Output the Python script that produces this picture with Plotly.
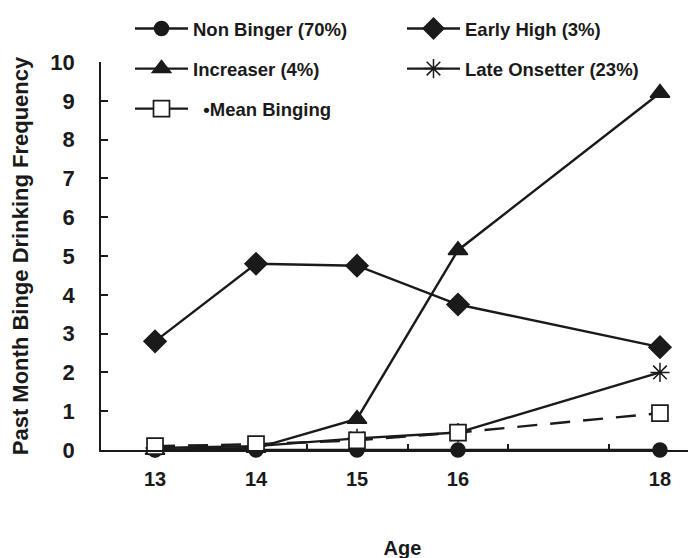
import plotly.graph_objects as go

ages = [13, 14, 15, 16, 18]
non_binger = [0, 0, 0, 0, 0]
early_high = [2.8, 4.8, 4.75, 3.75, 2.65]
increaser = [0.0, 0.05, 0.8, 5.15, 9.2]
late_onsetter = [0.05, 0.1, 0.3, 0.45, 2.0]
mean_binging = [0.1, 0.15, 0.25, 0.45, 0.95]

x_ticks = [13, 14, 15, 16, 18]
x_minor = [13.5, 14.5, 15.5, 16.5, 17.5]
y_ticks = list(range(0, 11))

INK = "#1a1a1a"
FONT = "Liberation Sans, Arial, sans-serif"
X_RANGE = [12.465, 18.436]

W, H = 696, 558
ML, MR, MT, MB = 93, 0, 54, 116
PW, PH = W - ML - MR, H - MT - MB

def px_x(p):
    return (p - ML) / PW

def px_y(p):
    return (H - MB - p) / PH

fig = go.Figure()

def add(name, y, symbol, size, legend, group, dash="solid", fill=INK, lw=1.5):
    fig.add_trace(go.Scatter(
        x=ages, y=y, name=name, mode="lines+markers",
        line=dict(color=INK, width=2.4, dash=dash),
        marker=dict(symbol=symbol, size=size, color=fill,
                    line=dict(color=INK, width=lw)),
        legend=legend, legendgroup=group, cliponaxis=False,
    ))

add("Non Binger (70%)", non_binger, "circle", 14, "legend", "a")
add("Early High (3%)", early_high, "diamond", 17, "legend2", "b")
add("Increaser (4%)", increaser, "triangle-up", 17, "legend", "c")
add("Late Onsetter (23%)", late_onsetter, "asterisk-open", 16, "legend2", "d", lw=1.5)
add("  \u2022Mean Binging", mean_binging, "square", 16, "legend", "e",
    dash="20px,13px", fill="white", lw=1.7)

# invisible trace to carry the between-age tick marks on an overlay axis
fig.add_trace(go.Scatter(x=x_minor, y=[None] * len(x_minor), xaxis="x2",
                         showlegend=False, hoverinfo="skip", mode="markers"))

legend_common = dict(
    xref="paper", yref="paper", yanchor="top", xanchor="left",
    orientation="v", bgcolor="rgba(0,0,0,0)", itemwidth=53,
    font=dict(family=FONT, size=18.5, color=INK, weight="bold"),
    tracegroupgap=13, itemclick=False,
)

fig.update_layout(
    width=W, height=H,
    margin=dict(l=ML, r=MR, t=MT, b=MB, autoexpand=False),
    paper_bgcolor="white", plot_bgcolor="white",
    font=dict(family=FONT, color=INK),
    showlegend=True,
    legend=dict(x=px_x(122), y=px_y(2), **legend_common),
    legend2=dict(x=px_x(394), y=px_y(2), **legend_common),
    xaxis=dict(
        range=X_RANGE, showline=True, linecolor=INK, linewidth=1.8,
        showgrid=False, zeroline=False,
        tickmode="array", tickvals=x_ticks, ticktext=[str(v) for v in x_ticks],
        ticks="outside", ticklen=10, tickcolor="rgba(0,0,0,0)",
        tickfont=dict(family=FONT, size=20, color=INK, weight="bold"),
        title=dict(text="Age", standoff=52,
                   font=dict(family=FONT, size=20, color=INK, weight="bold")),
    ),
    xaxis2=dict(
        range=X_RANGE, overlaying="x", side="bottom", anchor="y",
        showline=False, showgrid=False, zeroline=False,
        tickmode="array", tickvals=x_minor, showticklabels=False,
        ticks="inside", ticklen=6, tickwidth=1.5, tickcolor=INK,
    ),
    yaxis=dict(
        range=[0, 10], showline=True, linecolor=INK, linewidth=1.8,
        showgrid=False, zeroline=False,
        tickmode="array", tickvals=y_ticks,
        ticks="inside", ticklen=7, tickwidth=1.5, tickcolor=INK,
        ticklabelstandoff=20,
        tickfont=dict(family=FONT, size=22, color=INK, weight="bold"),
        title=dict(text="Past Month Binge Drinking Frequency", standoff=16,
                   font=dict(family=FONT, size=22, color=INK, weight="bold")),
    ),
)

fig.write_html("out.html")
